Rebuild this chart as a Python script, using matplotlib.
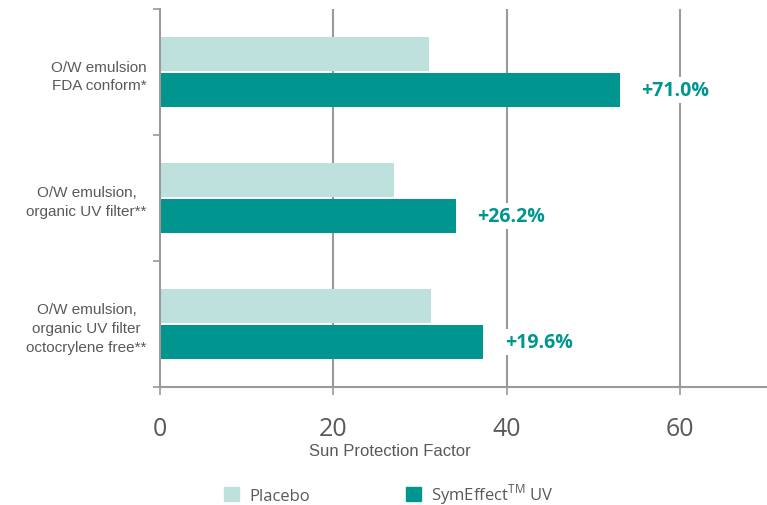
import numpy as np
import matplotlib.pyplot as plt
from matplotlib.patches import Patch

categories = ["O/W emulsion\nFDA conform*",
              "O/W emulsion,\norganic UV filter**",
              "O/W emulsion,\norganic UV filter\noctocrylene free**"]
placebo = [31.0, 27.0, 31.2]
symeffect = [53.0, 34.1, 37.3]
increase = ["+71.0%", "+26.2%", "+19.6%"]
xticks = [0, 20, 40, 60]

c_placebo = "#bfe1dd"
c_sym = "#00968f"
grey = "#9a9a9a"
txt = "#595959"

plt.rcParams['mathtext.fontset'] = 'custom'
plt.rcParams['mathtext.rm'] = 'Open Sans'

fig = plt.figure(figsize=(7.67, 5.06), dpi=100)
ax = fig.add_axes([160 / 767, 1 - 388 / 506, 607 / 767, 378 / 506])

y = np.arange(len(categories)) + 0.5
h = 0.275
ax.barh(y - 0.143, placebo, height=h, color=c_placebo, zorder=2)
ax.barh(y + 0.143, symeffect, height=h, color=c_sym, zorder=2)

for yy, v, lab in zip(y, symeffect, increase):
    ax.text(v + 2.5, yy + 0.143, lab, va="center", ha="left", color=c_sym,
            fontsize=14, fontweight="bold", family="Open Sans", zorder=4,
            bbox=dict(facecolor="white", edgecolor="none", pad=2))

ax.set_xlim(0, 70)
ax.set_ylim(3, 0)
ax.set_xticks(xticks)
ax.set_xticklabels([str(t) for t in xticks], fontsize=18, color=txt, family="Open Sans")
ax.set_yticks([0, 1, 2, 3])
ax.set_yticklabels([])
ax.set_yticks(y, minor=True)
ax.set_yticklabels(categories, minor=True, fontsize=11, color=txt,
                   family="Liberation Sans", multialignment="center", linespacing=1.45)
ax.tick_params(axis="y", which="minor", length=0, pad=9.5)
ax.tick_params(axis="y", which="major", length=5, color=grey, width=1.2)
ax.tick_params(axis="x", length=6, color=grey, width=1.2, pad=15)

for t in xticks[1:]:
    ax.axvline(t, color=grey, lw=1.5, zorder=1)

for s in ["top", "right"]:
    ax.spines[s].set_visible(False)
for s in ["left", "bottom"]:
    ax.spines[s].set_color(grey)
    ax.spines[s].set_linewidth(1.5)

ax.set_xlabel("Sun Protection Factor", fontsize=12, color=txt, family="Liberation Sans")
ax.xaxis.set_label_coords((390 - 160) / 607, -(452 - 388) / 378)
ax.xaxis.label.set_va("center")

handles = [Patch(color=c_placebo), Patch(color=c_sym)]
fig.legend(handles, ["Placebo", r"SymEffect$^{\mathrm{TM}}$ UV"], loc="center",
           bbox_to_anchor=(389 / 767, 1 - 495 / 506), ncol=2, frameon=False,
           handlelength=0.9, handleheight=0.9, handletextpad=0.6, columnspacing=5.8,
           prop={"family": "Open Sans", "size": 12}, labelcolor=txt)

fig.savefig("out.png", dpi=100)
